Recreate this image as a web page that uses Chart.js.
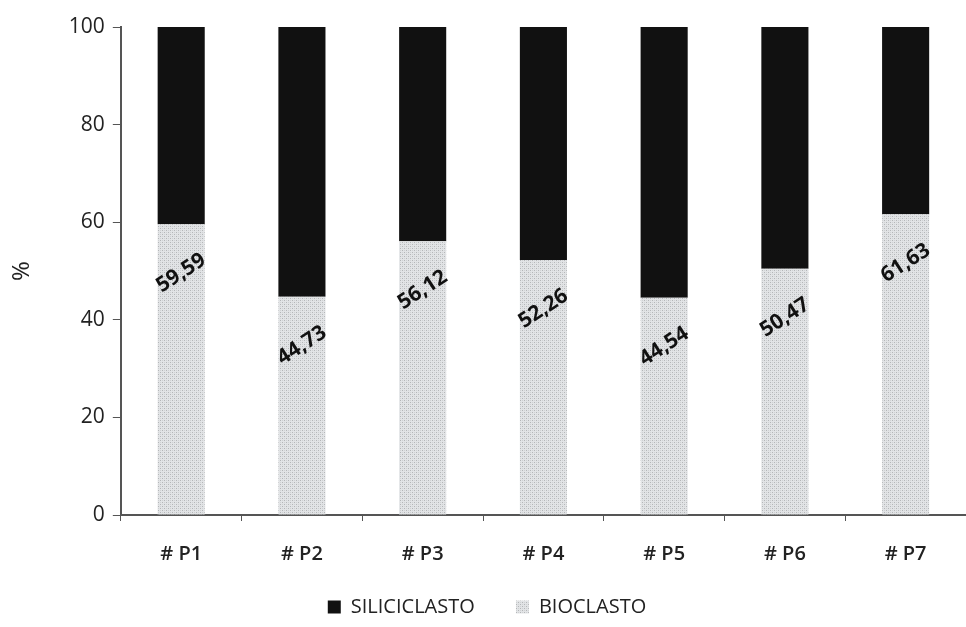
<!DOCTYPE html>
<html>
<head>
<meta charset="utf-8">
<script src="https://cdn.jsdelivr.net/npm/chart.js@4"></script>
<style>
  html, body { margin: 0; padding: 0; background: #ffffff; }
  #wrap { width: 966px; height: 627px; position: relative; }
</style>
</head>
<body>
<div id="wrap"><canvas id="grafico" width="966" height="627"></canvas></div>
<script>
// dati
var campioni = ["# P1", "# P2", "# P3", "# P4", "# P5", "# P6", "# P7"];
var bioclasto = [59.59, 44.73, 56.12, 52.26, 44.54, 50.47, 61.63];
var siliciclasto = [40.41, 55.27, 43.88, 47.74, 55.46, 49.53, 38.37];
var tickY = [0, 20, 40, 60, 80, 100];

// retino puntinato per il bioclasto
function creaRetino() {
    var c = document.createElement("canvas");
    c.width = 4; c.height = 4;
    var g = c.getContext("2d");
    g.fillStyle = "#e2e4e6";
    g.fillRect(0, 0, 4, 4);
    g.fillStyle = "#b4b6b8";
    g.fillRect(0, 0, 1, 1);
    g.fillRect(2, 2, 1, 1);
    g.fillStyle = "#cfd1d3";
    g.fillRect(2, 0, 1, 1);
    g.fillRect(0, 2, 1, 1);
    return g.createPattern(c, "repeat");
}

var ctx = document.getElementById("grafico").getContext("2d");
var retino = creaRetino();

// etichette ruotate dentro la parte grigia
var etichette = {
    id: "etichette",
    afterDatasetsDraw: function (chart) {
        var meta = chart.getDatasetMeta(0);
        var y = chart.scales.y;
        var c = chart.ctx;
        c.save();
        c.font = "bold 21px 'Open Sans'";
        c.fillStyle = "#111111";
        c.textAlign = "center";
        c.textBaseline = "middle";
        meta.data.forEach(function (bar, i) {
            var v = bioclasto[i];
            c.save();
            c.translate(bar.x, y.getPixelForValue(v - 10));
            c.rotate(-33 * Math.PI / 180);
            c.fillText(v.toFixed(2).replace(".", ","), 0, 0);
            c.restore();
        });
        c.restore();
    }
};

new Chart(ctx, {
    type: "bar",
    data: {
        labels: campioni,
        datasets: [{
            label: "BIOCLASTO",
            data: bioclasto,
            backgroundColor: retino,
            borderWidth: 0
        }, {
            label: "SILICICLASTO",
            data: siliciclasto,
            backgroundColor: "#111111",
            borderWidth: 0
        }]
    },
    options: {
        responsive: false,
        animation: false,
        layout: { padding: { left: 8, right: 0, top: 27, bottom: 0 } },
        datasets: { bar: { barPercentage: 0.39, categoryPercentage: 1 } },
        scales: {
            x: {
                stacked: true,
                grid: { display: true, drawOnChartArea: false, tickLength: 6, tickColor: "#555555", offset: true },
                border: { color: "#555555", width: 2 },
                ticks: { color: "#222222", font: { size: 20, weight: "600", family: "'Open Sans'" }, padding: 21 }
            },
            y: {
                stacked: true,
                min: 0,
                max: 100,
                afterBuildTicks: function (axis) {
                    axis.ticks = tickY.map(function (v) { return { value: v }; });
                },
                grid: { display: true, drawOnChartArea: false, tickLength: 8, tickColor: "#555555" },
                border: { color: "#555555", width: 2 },
                ticks: { color: "#222222", font: { size: 21, family: "'Open Sans'" }, padding: 8 },
                title: {
                    display: true,
                    text: "%",
                    color: "#222222",
                    font: { size: 24, family: "'Open Sans'" },
                    padding: { top: 0, bottom: 24 }
                }
            }
        },
        plugins: {
            legend: {
                position: "bottom",
                reverse: true,
                labels: {
                    color: "#222222",
                    font: { size: 20, family: "'Open Sans'" },
                    boxWidth: 13,
                    boxHeight: 13,
                    padding: 10,
                    generateLabels: function (chart) {
                        var voci = Chart.defaults.plugins.legend.labels.generateLabels(chart);
                        voci.forEach(function (v) {
                            if (v.text === "SILICICLASTO") v.text = "SILICICLASTO      ";
                        });
                        return voci;
                    }
                }
            },
            tooltip: { enabled: false }
        }
    },
    plugins: [etichette]
});
</script>
</body>
</html>
